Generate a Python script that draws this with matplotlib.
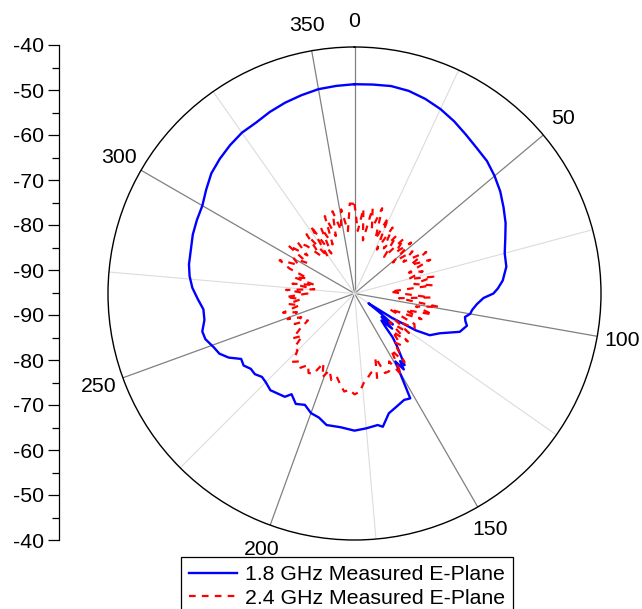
import numpy as np
import matplotlib
matplotlib.use("Agg")
import matplotlib.pyplot as plt

plt.rcParams['font.family'] = ['Liberation Sans', 'DejaVu Sans']

# ---------------- data ----------------
blue_angles = [0, 5, 10, 15, 20, 25, 30, 35, 40, 45, 50, 55, 60, 65, 70, 75, 80, 85, 88, 90,
               92, 95, 98, 100, 102, 104, 106, 110, 115, 119, 121, 123, 125, 127, 129, 131,
               133, 135, 137, 139, 141, 143, 145, 146, 147, 149, 152, 155, 160, 164, 168, 170,
               175, 180, 186, 192, 196, 200, 204, 208, 212, 214, 218, 221, 225, 228, 231, 234,
               237, 240, 243, 246, 249, 253, 256, 260, 264, 268, 272, 276, 280, 285, 290, 295,
               300, 305, 310, 315, 320, 325, 330, 335, 340, 345, 350, 355, 360]
blue_values = [-48.3, -48.2, -48.0, -48.2, -48.8, -49.6, -50.6, -51.7, -52.6, -53.2, -54.2, -55.3,
               -56.6, -57.8, -59.2, -60.3, -60.6, -61.8, -63.0, -64.0,
               -66.2, -67.6, -68.5, -68.8, -69.8, -69.5, -68.9, -70.0, -74.0, -75.8, -79.0, -85.0,
               -91.2, -88.0, -84.0, -87.0, -83.5, -86.5, -85.0, -82.0, -80.0, -78.0, -75.5, -76.8,
               -74.8, -77.3, -68.5, -68.8, -68.0, -67.2, -64.6, -65.2, -64.8, -64.4, -65.0, -65.0,
               -66.2, -66.6, -67.8, -67.1, -68.5, -67.2, -66.8, -66.4, -67.0, -67.2, -66.4, -66.4,
               -65.5, -65.8, -63.5, -62.0, -61.4, -60.2, -60.0, -61.0, -61.1, -60.0, -58.8, -58.0,
               -57.5, -57.2, -56.6, -56.2, -55.8, -54.6, -53.3, -52.5, -51.8, -51.2, -51.0, -50.3,
               -49.7, -49.2, -48.7, -48.5, -48.3]

red_angles = list(range(0, 360, 3)) + [360]
red_values = [-75.0, -81.0, -76.0, -83.0, -75.5, -80.0, -75.0, -82.0, -76.5, -84.0,
              -78.0, -83.0, -79.0, -84.5, -78.5, -82.0, -78.0, -84.0, -79.0, -82.0,
              -76.5, -81.0, -76.5, -82.0, -79.0, -82.5, -77.0, -81.5, -77.5, -87.0,
              -84.5, -78.0, -85.0, -76.0, -81.0, -77.0, -83.0, -79.0, -86.5, -80.0,
              -79.5, -84.0, -80.0, -85.0, -79.0, -83.0, -79.5, -81.0, -76.0, -80.0,
              -74.0, -78.0, -76.0, -76.0, -80.0, -75.5, -77.0, -76.0, -75.0, -73.0,
              -72.5, -73.5, -73.0, -74.5, -76.0, -75.0, -77.0, -75.0, -78.0, -75.0,
              -74.5, -76.0, -74.5, -75.5, -74.5, -77.0, -77.0, -80.0, -78.0, -80.5,
              -83.0, -80.0, -82.0, -79.0, -81.5, -78.5, -82.5, -80.0, -83.0, -79.7,
              -84.5, -79.7, -86.0, -81.0, -86.0, -81.0, -84.0, -79.5, -76.7, -81.0,
              -79.4, -82.5, -76.7, -81.5, -78.0, -80.0, -83.5, -78.0, -85.0, -77.0,
              -84.7, -78.5, -83.0, -76.5, -81.5, -76.0, -80.5, -76.0, -81.0, -74.9,
              -75.0]

theta_major = [0, 50, 100, 150, 200, 250, 300, 350]
theta_major_labels = ['0', '50', '100', '150', '200', '250', '300', '350']
theta_minor = [25, 75, 125, 175, 225, 275, 325]

r_min, r_max = -95, -40
scale_pos = [55, 45, 35, 25, 15, 5, -5, -15, -25, -35, -45, -55]
scale_labels = ['-40', '-50', '-60', '-70', '-80', '-90', '-90', '-80', '-70', '-60', '-50', '-40']
scale_minor = [50, 40, 30, 20, 10, 0, -10, -20, -30, -40, -50]

series_labels = ['1.8 GHz Measured E-Plane', '2.4 GHz Measured E-Plane']

# ---------------- figure ----------------
W, H = 642, 609
fig = plt.figure(figsize=(W / 100, H / 100), dpi=100)
fig.patch.set_facecolor('white')
FS = 15.3

cx, cy, R = 354.5, 293.5, 246.5
ax = fig.add_axes([(cx - R) / W, (H - cy - R) / H, 2 * R / W, 2 * R / H], projection='polar')
ax.set_theta_zero_location('N')
ax.set_theta_direction(-1)
ax.set_ylim(r_min, r_max)
ax.set_yticks([])
ax.yaxis.grid(False)

ax.set_xticks(np.deg2rad(theta_major))
ax.set_xticklabels([])
ax.set_xticks(np.deg2rad(theta_minor), minor=True)
ax.xaxis.grid(True, which='major', color='#808080', lw=0.9)
ax.xaxis.grid(True, which='minor', color='#dcdcdc', lw=0.8)
ax.tick_params(axis='x', which='both', direction='in', length=4, width=0.8, color='black')
ax.spines['polar'].set_color('black')
ax.spines['polar'].set_linewidth(1.0)

l1, = ax.plot(np.deg2rad(blue_angles), blue_values, color='#0000ff', lw=1.7,
              label=series_labels[0], zorder=3)
l2, = ax.plot(np.deg2rad(red_angles), red_values, color='#ff0000', lw=1.6,
              linestyle=(0, (3.0, 2.8)), label=series_labels[1], zorder=3)

label_r = r_min + 272 / (R / (r_max - r_min))
for a, t in zip(theta_major, theta_major_labels):
    ax.text(np.deg2rad(a), label_r, t, ha='center', va='center', fontsize=FS, clip_on=False)

# ---------------- left scale axis ----------------
top_px, bot_px = 45, 540
lax = fig.add_axes([59 / W, (H - bot_px) / H, 0.0001, (bot_px - top_px) / H])
lax.set_ylim(-55, 55)
lax.set_xticks([])
for s in ['top', 'right', 'bottom']:
    lax.spines[s].set_visible(False)
lax.spines['left'].set_linewidth(0.9)
lax.patch.set_visible(False)
lax.set_yticks(scale_pos)
lax.set_yticklabels(scale_labels, fontsize=FS)
lax.set_yticks(scale_minor, minor=True)
lax.tick_params(axis='y', which='major', length=8, width=0.9, pad=3)
lax.tick_params(axis='y', which='minor', length=5, width=0.9)

# ---------------- legend ----------------
leg = fig.legend(handles=[l1, l2], loc='upper left',
                 bbox_to_anchor=(181 / W, 1 - 557 / H), bbox_transform=fig.transFigure,
                 fontsize=FS, frameon=True, fancybox=False, edgecolor='black',
                 framealpha=1, borderaxespad=0, handlelength=2.25, handletextpad=0.35,
                 labelspacing=0.2, borderpad=0.4)
leg.get_frame().set_linewidth(0.9)

fig.savefig('out.png', dpi=100)
